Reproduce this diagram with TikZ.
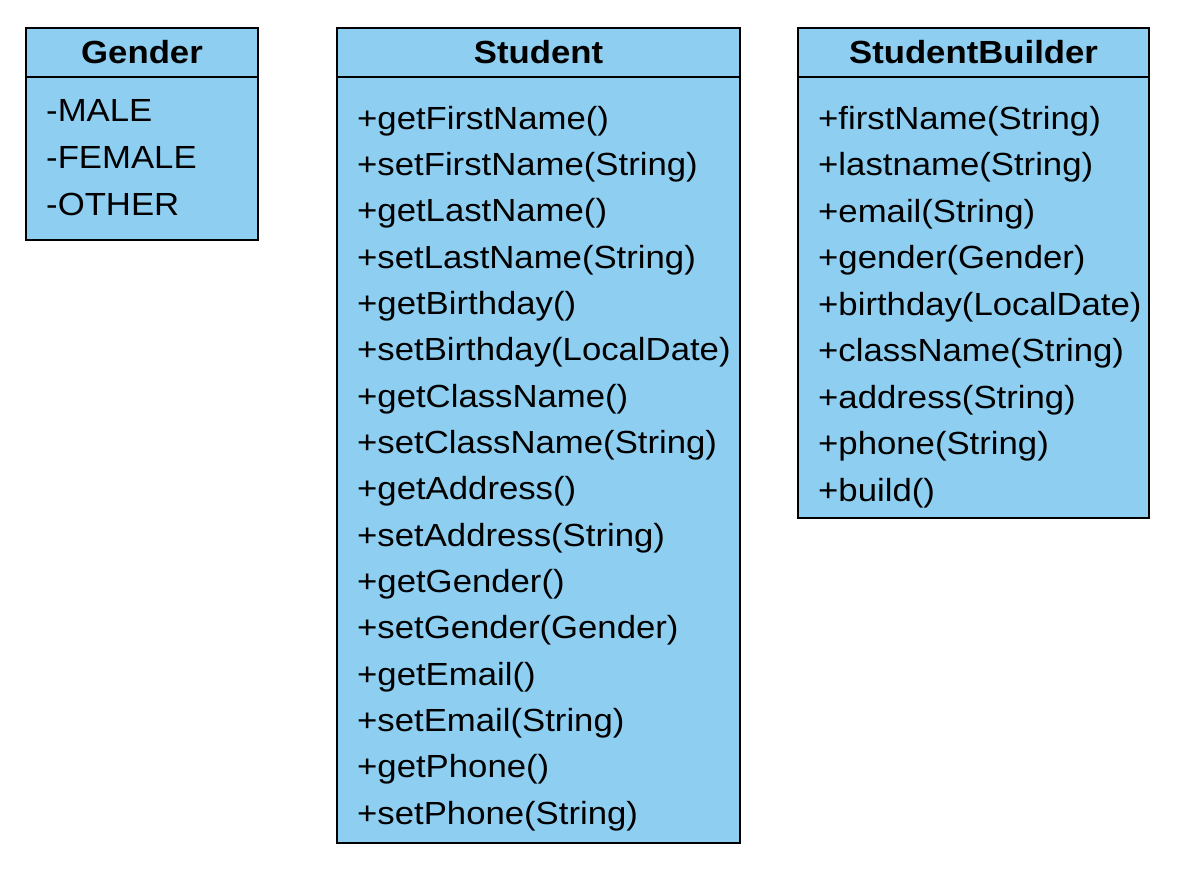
\documentclass[tikz,border=0pt]{standalone}
\usepackage{fontspec}
\setmainfont{Liberation Sans}[FakeStretch=1.085]
\usepackage{xcolor}
\usetikzlibrary{positioning}
\definecolor{classblue}{HTML}{8ECEF1}

\begin{document}
\begin{tikzpicture}[
x=1pt, y=-1pt,
classhead/.style = {draw, line width=2.5pt, fill=classblue, inner sep=0pt,
                    outer sep=0pt, anchor=north west, minimum height=49,
                    font=\fontsize{32}{38}\selectfont\bfseries},
classbody/.style = {draw, line width=2.5pt, fill=classblue, inner sep=0pt,
                    outer sep=0pt},
member/.style = {anchor=base west, inner sep=0pt,
                 font=\fontsize{32}{38}\selectfont},
                        ]
\useasboundingbox (0,0) rectangle (1188,880);
% enum
\node (gender) [classhead, minimum width=232] at (26,28) {Gender};
\node (gender body) [classbody, minimum width=232, minimum height=163,
                     below=0pt of gender] {};
\foreach \m [count=\i] in {-MALE, -FEMALE, -OTHER}
  \node (gender m\i) [member] at (46, {122+46.5*(\i-1)}) {\m};
% student class
\node (student) [classhead, minimum width=403] at (337,28) {Student};
\node (student body) [classbody, minimum width=403, minimum height=766,
                      below=0pt of student] {};
\foreach \m [count=\i] in {{+getFirstName()}, {+setFirstName(String)},
    {+getLastName()}, {+setLastName(String)}, {+getBirthday()},
    {+setBirthday(LocalDate)}, {+getClassName()}, {+setClassName(String)},
    {+getAddress()}, {+setAddress(String)}, {+getGender()},
    {+setGender(Gender)}, {+getEmail()}, {+setEmail(String)},
    {+getPhone()}, {+setPhone(String)}}
  \node (student m\i) [member] at (357, {129.3+46.33*(\i-1)}) {\m};
% builder
\node (builder) [classhead, minimum width=351] at (798,28) {StudentBuilder};
\node (builder body) [classbody, minimum width=351, minimum height=441,
                      below=0pt of builder] {};
\foreach \m [count=\i] in {{+firstName(String)}, {+lastname(String)},
    {+email(String)}, {+gender(Gender)}, {+birthday(LocalDate)},
    {+className(String)}, {+address(String)}, {+phone(String)},
    {+build()}}
  \node (builder m\i) [member] at (818, {129.3+46.5*(\i-1)}) {\m};
\end{tikzpicture}
\end{document}
